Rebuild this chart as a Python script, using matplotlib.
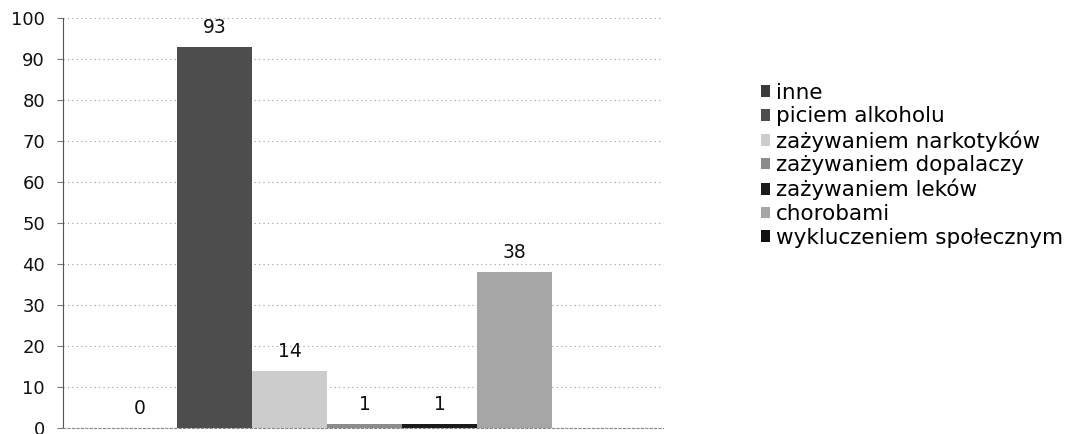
import matplotlib
matplotlib.use("Agg")
import matplotlib.pyplot as plt
import numpy as np

plt.rcParams['font.family'] = ['DejaVu Sans']

# chart data
categories = ['inne', 'piciem alkoholu', 'zażywaniem narkotyków',
              'zażywaniem dopalaczy', 'zażywaniem leków', 'chorobami',
              'wykluczeniem społecznym']
values = [0, 93, 14, 1, 1, 38, np.nan]
colors = ['#3a3a3a', '#4d4d4d', '#cccccc', '#8c8c8c', '#1a1a1a', '#a6a6a6', '#111111']
yticks = list(range(0, 101, 10))

fig = plt.figure(figsize=(10.66, 4.34), dpi=100)
ax = fig.add_axes([63 / 1066, 1 - 428 / 434, 600 / 1066, 410 / 434])

x = np.arange(len(categories))
for xi, v, c, name in zip(x, values, colors, categories):
    h = 0 if np.isnan(v) else v
    ax.bar(xi, h, width=1.0, color=c, label=name, linewidth=0)
    if not np.isnan(v):
        ax.text(xi, h + 2.4, f'{int(v)}', ha='center', va='bottom',
                fontsize=13.5, color='#111111')

ax.set_xlim(-1.02, 6.98)
ax.set_ylim(0, 100)
ax.set_yticks(yticks)
ax.set_yticklabels([str(t) for t in yticks], fontsize=13, color='#111111')
ax.set_xticks([])
ax.yaxis.grid(True, linestyle=(0, (1, 3)), color='#9a9a9a', linewidth=0.8)
ax.set_axisbelow(True)
ax.tick_params(axis='y', length=4, width=0.8, color='#777777', pad=9)

for side in ['top', 'right']:
    ax.spines[side].set_visible(False)
ax.spines['left'].set_color('#555555')
ax.spines['left'].set_linestyle((0, (2, 1)))
ax.spines['bottom'].set_color('#888888')
ax.spines['bottom'].set_linestyle((0, (2, 2)))

leg = fig.legend(loc='upper left', bbox_to_anchor=(750 / 1066, 1 - 72 / 434),
                 frameon=False, fontsize=15.5, handlelength=0.45, handleheight=0.45,
                 handletextpad=0.25, labelspacing=0.17, borderpad=0)

fig.savefig('out.png', dpi=100)
plt.close(fig)
